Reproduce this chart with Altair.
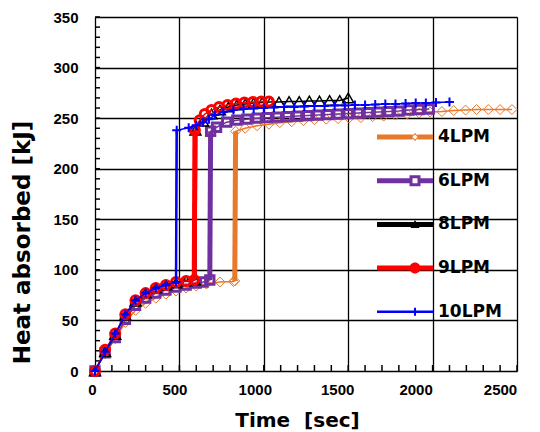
import altair as alt
import pandas as pd

series = ["4LPM", "6LPM", "8LPM", "9LPM", "10LPM"]
colors = ["#E8782A", "#7030A0", "#000000", "#FF0000", "#0000FF"]

# --- data (time [s], heat absorbed [kJ]) ---
t4_pre = [0, 60, 120, 180, 240, 300, 360, 420, 480, 540, 600, 660, 740, 820, 828]
v4_pre = [0, 17, 32, 48, 60, 67, 72, 76, 79, 82, 84, 86, 88, 88.5, 89]
t4_post = [833, 890, 960, 1030, 1095, 1165, 1235, 1300, 1370, 1440, 1505, 1575, 1645,
           1710, 1780, 1850, 1920, 1985, 2055, 2125, 2195, 2260, 2330, 2400, 2470]
v4_post = [237, 240, 242.5, 244, 245.5, 246.5, 247.5, 248.5, 249, 249.5, 250, 250.5, 251.5,
           252, 253, 254, 255, 256, 256.5, 257.5, 258, 258.5, 258.5, 258.5, 258.5]

t6_pre = [0, 60, 120, 180, 240, 300, 360, 420, 480, 540, 600, 640, 680]
v6_pre = [0, 18, 33, 51, 65, 72, 77, 80, 83, 85, 87, 88, 90]
t6_post = [685, 720, 780, 840, 900, 960, 1020, 1080, 1140, 1200, 1260, 1320, 1380, 1440,
           1500, 1560, 1620, 1680, 1740, 1800, 1860, 1920, 1980]
v6_post = [237, 241, 246, 248, 249, 250, 250.5, 251, 251.5, 252, 252.5, 253, 253.5, 254,
           254.5, 255, 255.5, 256, 256.5, 257, 258, 258.5, 259]

t8_pre = [0, 60, 120, 180, 240, 300, 360, 420, 480, 540, 590]
v8_pre = [0, 19, 36, 55, 69, 77, 82, 85, 87, 89, 90]
t8_post = [595, 640, 690, 740, 790, 840, 890, 940, 990, 1040, 1090, 1150, 1210, 1270,
           1330, 1390, 1450, 1500]
v8_post = [238, 247, 254, 258, 261, 263, 264, 265, 265.5, 266, 266, 266.5, 266.5, 267,
           267, 267.5, 267.5, 270]

t9_pre = [0, 60, 120, 180, 240, 300, 360, 420, 480, 540, 588]
v9_pre = [0, 21, 37, 56, 70, 77, 82, 85, 88, 89, 90]
t9_post = [592, 620, 650, 690, 735, 785, 835, 885, 935, 985, 1030]
v9_post = [238, 248, 254, 258, 261, 263, 264.5, 265.5, 266, 266.5, 266.5]

t10_pre = [0, 60, 120, 180, 240, 300, 360, 420, 480]
v10_pre = [0, 19, 37, 56, 70, 77, 82, 85, 88]
t10_post = [484, 555, 600, 640, 675, 710, 760, 820, 880, 940, 1000, 1060, 1120, 1180, 1240,
            1300, 1360, 1420, 1480, 1540, 1600, 1660, 1720, 1780, 1840, 1900, 1960, 2020, 2100]
v10_post = [238, 240.5, 243, 246, 249, 253, 256, 258, 259, 259.5, 260, 260.5, 261, 261, 261.5,
            262, 262, 262.5, 262.5, 263, 263, 263.5, 264, 264, 264.5, 265, 265, 265.5, 266]

x_ticks = [0, 500, 1000, 1500, 2000, 2500]
y_ticks = [0, 50, 100, 150, 200, 250, 300, 350]
x_minor = list(range(0, 2501, 100))
y_minor = list(range(0, 351, 10))

pre = {"4LPM": (t4_pre, v4_pre), "6LPM": (t6_pre, v6_pre), "8LPM": (t8_pre, v8_pre),
       "9LPM": (t9_pre, v9_pre), "10LPM": (t10_pre, v10_pre)}
post = {"4LPM": (t4_post, v4_post), "6LPM": (t6_post, v6_post), "8LPM": (t8_post, v8_post),
        "9LPM": (t9_post, v9_post), "10LPM": (t10_post, v10_post)}

rows, jrows = [], []
for s in series:
    tp, vp = pre[s]
    tq, vq = post[s]
    for t, v in zip(tp + tq, vp + vq):
        rows.append({"series": s, "t": t, "v": v})
    jrows.append({"series": s, "t": tp[-1], "v": vp[-1]})
    jrows.append({"series": s, "t": tq[0], "v": vq[0]})
df = pd.DataFrame(rows)
jdf = pd.DataFrame(jrows)

# --- styles ---
marker_shape = {"4LPM": "diamond", "6LPM": "square", "8LPM": "triangle-up",
                "9LPM": "circle", "10LPM": "M-1,0H1M0,-1V1"}
marker_size = {"4LPM": 100, "6LPM": 70, "8LPM": 120, "9LPM": 81, "10LPM": 81}
marker_sw = {"4LPM": 1, "6LPM": 3, "8LPM": 1.5, "9LPM": 3, "10LPM": 2}
jump_sw = {"4LPM": 5, "6LPM": 5, "8LPM": 4, "9LPM": 5, "10LPM": 2.5}
col = dict(zip(series, colors))

legend_paths = [
    "M-1,-0.25H2.54V0.25H-1Z M3.06,-0.25H4.6V0.25H3.06Z "
    "M2.8,-0.4L3.2,0L2.8,0.4L2.4,0Z M2.8,-0.26L2.54,0L2.8,0.26L3.06,0Z",
    "M-1,-0.25H2.55V0.25H-1Z M3.05,-0.25H4.6V0.25H3.05Z "
    "M2.25,-0.55H3.35V0.55H2.25Z M2.55,-0.25V0.25H3.05V-0.25Z",
    "M-1,-0.25H4.6V0.25H-1Z M2.8,-0.45L3.25,0.35L2.35,0.35Z",
    "M-1,-0.25H4.6V0.25H-1Z M2.25,0A0.55,0.55 0 1,1 3.35,0A0.55,0.55 0 1,1 2.25,0Z",
    "M-1,-0.12H4.6V0.12H-1Z M2.7,-0.4H2.9V0.4H2.7Z",
]

x_label_offset = {
    "condition": [
        {"test": "datum.value == 0", "value": -3},
        {"test": "datum.value == 500", "value": -5},
        {"test": "datum.value == 1000", "value": -9},
        {"test": "datum.value == 1500", "value": -11},
    ],
    "value": -17,
}

xscale = alt.Scale(domain=[0, 2500], nice=False, zero=False)
yscale = alt.Scale(domain=[0, 350], nice=False, zero=False)
xaxis = alt.Axis(values=x_ticks, format="d", grid=True, gridColor="black", gridWidth=1.3,
                 gridOpacity=1, ticks=False, domain=False, labelFont="Liberation Sans",
                 labelFontWeight="bold", labelFontSize=15, labelColor="black", labelPadding=11,
                 labelOffset=x_label_offset,
                 labelFlush=False, labelOverlap=False, title="Time\u00a0 [sec]",
                 titleFont="DejaVu Sans", titleFontSize=20, titleFontWeight="bold",
                 titleColor="black", titleX=202, titleY=49, titleBaseline="middle",
                 titleAlign="center")
yaxis = alt.Axis(values=y_ticks, format="d", grid=True, gridColor="black", gridWidth=1.3,
                 gridOpacity=1, ticks=False, domain=False, labelFont="Liberation Sans",
                 labelFontWeight="bold", labelFontSize=15, labelColor="black", labelPadding=17,
                 labelFlush=False, labelOverlap=False, title="Heat absorbed [kJ]",
                 titleFont="DejaVu Sans", titleFontSize=23, titleFontWeight="bold",
                 titleColor="black", titleX=-73, titleY=225, titleAngle=270,
                 titleBaseline="middle", titleAlign="center")

X = alt.X("t:Q", scale=xscale, axis=xaxis)
Y = alt.Y("v:Q", scale=yscale, axis=yaxis)

layers = []

# inner minor ticks
ytick_df = pd.DataFrame({"v": y_minor})
xtick_df = pd.DataFrame({"t": x_minor})
layers.append(alt.Chart(ytick_df).mark_rule(color="black", strokeWidth=1.5).encode(
    y=Y, x=alt.value(0), x2=alt.value(5)))
layers.append(alt.Chart(xtick_df).mark_rule(color="black", strokeWidth=1.5).encode(
    x=X, y=alt.value(354), y2=alt.value(348)))

for s in series:
    c = col[s]
    layers.append(alt.Chart(df).transform_filter(alt.datum.series == s)
                  .mark_line(color=c, strokeWidth=1.5).encode(x=X, y=Y, order="t:Q"))
    layers.append(alt.Chart(jdf).transform_filter(alt.datum.series == s)
                  .mark_line(color=c, strokeWidth=jump_sw[s]).encode(x=X, y=Y, order="t:Q"))
    layers.append(alt.Chart(df).transform_filter(alt.datum.series == s)
                  .mark_point(shape=marker_shape[s], size=marker_size[s], filled=False,
                              color=c, strokeWidth=marker_sw[s], opacity=1)
                  .encode(x=X, y=Y))

legend_df = pd.DataFrame({"series": series, "t": [None] * 5, "v": [None] * 5})
leg = alt.Legend(orient="none", legendX=282, legendY=110, title=None, padding=0,
                 labelFont="DejaVu Sans", labelFontSize=17, labelFontWeight="bold",
                 labelColor="black", labelOffset=41, rowPadding=25.7, symbolStrokeWidth=0,
                 symbolSize=400, symbolOpacity=1)
legend_layer = alt.Chart(legend_df).mark_point(filled=True, size=400, opacity=1).encode(
    x=X, y=Y,
    color=alt.Color("series:N", scale=alt.Scale(domain=series, range=colors), legend=leg),
    shape=alt.Shape("series:N", scale=alt.Scale(domain=series, range=legend_paths), legend=leg),
)
layers.append(legend_layer)

chart = alt.layer(*layers).properties(
    width=422, height=354,
    autosize=alt.AutoSizeParams(type="none"),
    padding={"left": 87, "top": 9, "right": 15, "bottom": 60},
).configure_view(stroke="black", strokeWidth=2.5).configure(background="white")

chart.save("out.html", embed_options={"renderer": "svg", "actions": False})
